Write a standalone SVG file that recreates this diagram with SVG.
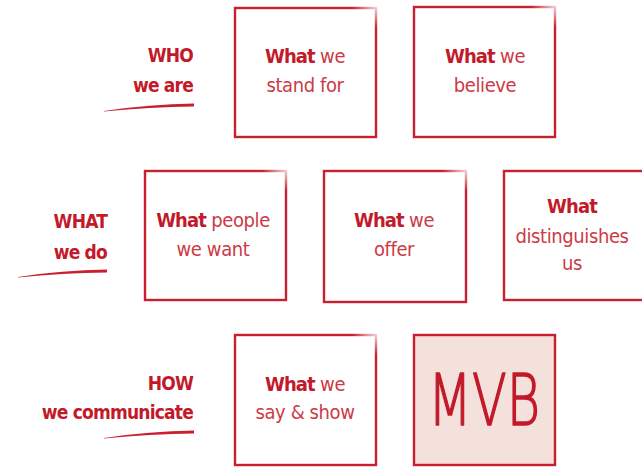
<svg xmlns="http://www.w3.org/2000/svg" width="642" height="467" viewBox="0 0 642 467">
  <style>
    .box { fill: #ffffff; stroke: #c9202f; stroke-width: 2.4; }
    .box-hl { fill: #f4e1db; stroke: #c9202f; stroke-width: 2.4; }
    .t { font-family: "DejaVu Sans Condensed", "DejaVu Sans", sans-serif; font-size: 20px; letter-spacing: -0.4px; fill: #cc3a46; text-anchor: middle; }
    .b { fill: #c21a2a; font-weight: bold; letter-spacing: -0.9px; }
    .lab { font-family: "DejaVu Sans Condensed", "DejaVu Sans", sans-serif; font-size: 19px; letter-spacing: -0.8px; fill: #c21a2a; font-weight: bold; text-anchor: end; }
    .ul { fill: #c9202f; }
    .mvb { font-family: "DejaVu Sans", sans-serif; font-size: 72px; fill: #c21a2a; stroke: #c21a2a; stroke-width: 1.6px; stroke-linejoin: round; text-anchor: middle; font-weight: 200; }
    .fade { fill: url(#cornerFade); }
  </style>
  <defs>
    <!-- soft fade where the pen lifts at the top-right corner -->
    <radialGradient id="cornerFade" cx="1" cy="0" r="1">
      <stop offset="0" stop-color="#ffffff" stop-opacity="0.95"/>
      <stop offset="0.5" stop-color="#ffffff" stop-opacity="0.5"/>
      <stop offset="1" stop-color="#ffffff" stop-opacity="0"/>
    </radialGradient>
  </defs>

  <!-- row labels with brush underlines -->
  <g id="label-who">
    <text class="lab" x="193" y="62">WHO</text>
    <text class="lab" x="193" y="92">we are</text>
    <path class="ul" d="M104,111 Q150,104 194,103.5 L194,106.5 Q150,107 104,111.5 Z"/>
  </g>
  <g id="label-what">
    <text class="lab" x="107" y="228">WHAT</text>
    <text class="lab" x="107" y="259">we do</text>
    <path class="ul" d="M18,277 Q62,270 107,269.5 L107,272.5 Q62,273 18,277.5 Z"/>
  </g>
  <g id="label-how">
    <text class="lab" x="193" y="390">HOW</text>
    <text class="lab" x="193" y="419">we communicate</text>
    <path class="ul" d="M104,438 Q150,431 194,430.5 L194,433.5 Q150,434 104,438.5 Z"/>
  </g>

  <!-- row 1 -->
  <g id="node-stand-for">
    <rect class="box" x="235" y="8" width="141" height="129"/>
    <rect class="fade" x="352" y="4" width="28" height="24"/>
    <text class="t" x="305" y="63"><tspan class="b">What</tspan> we</text>
    <text class="t" x="305" y="92">stand for</text>
  </g>
  <g id="node-believe">
    <rect class="box" x="414" y="7" width="141" height="130"/>
    <rect class="fade" x="531" y="3" width="28" height="24"/>
    <text class="t" x="485" y="63"><tspan class="b">What</tspan> we</text>
    <text class="t" x="485" y="92">believe</text>
  </g>

  <!-- row 2 -->
  <g id="node-people">
    <rect class="box" x="145" y="171" width="141" height="129"/>
    <rect class="fade" x="262" y="167" width="28" height="24"/>
    <text class="t" x="213" y="227"><tspan class="b">What</tspan> people</text>
    <text class="t" x="213" y="256">we want</text>
  </g>
  <g id="node-offer">
    <rect class="box" x="324" y="171" width="142" height="131"/>
    <rect class="fade" x="442" y="167" width="28" height="24"/>
    <text class="t" x="394" y="227"><tspan class="b">What</tspan> we</text>
    <text class="t" x="394" y="256">offer</text>
  </g>
  <g id="node-distinguishes">
    <rect class="box" x="504" y="171" width="142" height="129"/>
    <text class="t b" x="572" y="213">What</text>
    <text class="t" x="572" y="243">distinguishes</text>
    <text class="t" x="572" y="270">us</text>
  </g>

  <!-- row 3 -->
  <g id="node-say-show">
    <rect class="box" x="235" y="335" width="141" height="130"/>
    <rect class="fade" x="352" y="331" width="28" height="24"/>
    <text class="t" x="305" y="391"><tspan class="b">What</tspan> we</text>
    <text class="t" x="305" y="419">say &amp; show</text>
  </g>
  <g id="node-mvb">
    <rect class="box-hl" x="414" y="335" width="141" height="130"/>
    <text class="mvb" x="484" y="425" textLength="112" lengthAdjust="spacingAndGlyphs">MVB</text>
  </g>

  <g id="connectors"/>
</svg>
